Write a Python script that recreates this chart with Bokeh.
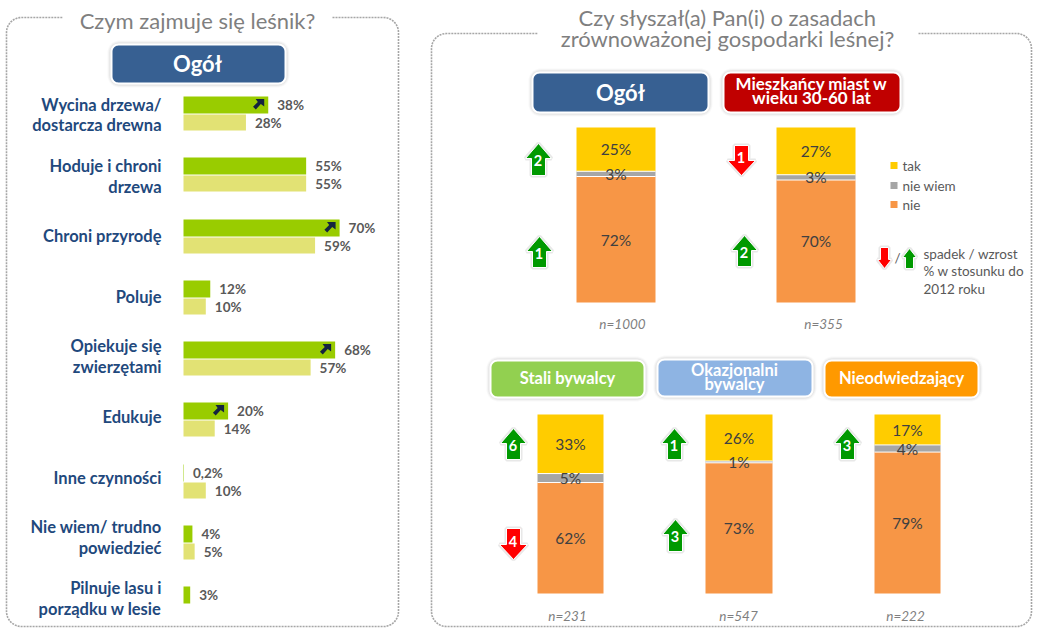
import math
from bokeh.plotting import figure
from bokeh.models import Range1d
from bokeh.core.properties import value
from bokeh.embed import file_html
from bokeh.resources import INLINE

# ---------- data ----------
activities = [["Wycina drzewa/", "dostarcza drewna"], ["Hoduje i chroni", "drzewa"], ["Chroni przyrodę"],
              ["Poluje"], ["Opiekuje się", "zwierzętami"], ["Edukuje"], ["Inne czynności"],
              ["Nie wiem/ trudno", "powiedzieć"], ["Pilnuje lasu i", "porządku w lesie"]]
share_recent = [38, 55, 70, 12, 68, 20, 0.2, 4, 3]
share_earlier = [28, 55, 59, 10, 57, 14, 10, 5, None]
share_recent_labels = ["38%", "55%", "70%", "12%", "68%", "20%", "0,2%", "4%", "3%"]
share_earlier_labels = ["28%", "55%", "59%", "10%", "57%", "14%", "10%", "5%", ""]
rising = [True, False, True, False, True, True, False, False, False]

groups = ["Ogół", "Mieszkańcy miast w wieku 30-60 lat", "Stali bywalcy", "Okazjonalni bywalcy", "Nieodwiedzający"]
tak = [25, 27, 33, 26, 17]
nie_wiem = [3, 3, 5, 1, 4]
nie = [72, 70, 62, 73, 79]
sample = ["n=1000", "n=355", "n=231", "n=547", "n=222"]
change_tak = [2, -1, 6, 1, 3]      # +up / -down, points vs. 2012
change_nie = [1, 2, -4, 3, None]
legend_names = ["tak", "nie wiem", "nie"]

# ---------- style ----------
FONT = "Lato"
NAVY, GREY_T, DARK_T = "#1F497D", "#7F7F7F", "#404040"
C_NEW, C_OLD = "#99CC00", "#E2E274"
C_TAK, C_NW, C_NIE = "#FFCC00", "#A6A6A6", "#F79646"
AR_G, AR_R = "#009900", "#FF0000"

W, H = 1043, 628
p = figure(width=W, height=H, x_range=Range1d(0, W), y_range=Range1d(H, 0),
           output_backend="svg", toolbar_location=None, min_border=0,
           outline_line_color=None, background_fill_color="white")
p.xaxis.visible = False
p.yaxis.visible = False
p.xgrid.visible = False
p.ygrid.visible = False

PX_PCT = 2.23
X0 = 183
p.extra_x_ranges["pct"] = Range1d(-X0 / PX_PCT, (W - X0) / PX_PCT)
for name, base, sc in (("st_top", 302, 1.75), ("st_bot", 593, 1.79)):
    p.extra_y_ranges[name] = Range1d((base - H) / sc, base / sc)


def txt(x, y, s, size, color, style="normal", align="center", **kw):
    p.text(x=[x], y=[y], text=[s], text_font=value(FONT), text_font_size=f"{size}px", text_color=color,
           text_font_style=style, text_align=align, text_baseline="middle", **kw)


def rr_path(l, t, r, b, rad, n=8):
    xs, ys = [], []
    for cx, cy, a0 in ((r - rad, t + rad, -90), (r - rad, b - rad, 0), (l + rad, b - rad, 90), (l + rad, t + rad, 180)):
        for i in range(n + 1):
            a = math.radians(a0 + 90 * i / n)
            xs.append(cx + rad * math.cos(a))
            ys.append(cy + rad * math.sin(a))
    return xs, ys


def button(l, t, r, b, color):
    for g, al in ((4, .05), (3, .07), (2, .10)):
        xs, ys = rr_path(l - g, t - g, r + g, b + g, 8 + g)
        p.patch(xs, ys, fill_color="#808080", fill_alpha=al, line_color=None)
    xs, ys = rr_path(l, t, r, b, 7)
    p.patch(xs, ys, fill_color=color, line_color="white", line_width=2)


def frame(l, t, r, b, gap_l, gap_r, rad=15):
    xs = [gap_r]
    ys = [t]
    for cx, cy, a0 in ((r - rad, t + rad, -90), (r - rad, b - rad, 0), (l + rad, b - rad, 90), (l + rad, t + rad, 180)):
        for i in range(13):
            a = math.radians(a0 + 90 * i / 12)
            xs.append(cx + rad * math.cos(a))
            ys.append(cy + rad * math.sin(a))
    xs.append(gap_l)
    ys.append(t)
    p.line(xs, ys, line_color="#A6A6A6", line_width=1.6, line_dash="2 1")


def arrow(cx, top, bot, up, label=None, hw=13, sw=7, hh=14):
    if up:
        xs = [cx, cx + hw, cx + sw, cx + sw, cx - sw, cx - sw, cx - hw]
        ys = [top, top + hh, top + hh, bot, bot, top + hh, top + hh]
    else:
        xs = [cx, cx + hw, cx + sw, cx + sw, cx - sw, cx - sw, cx - hw]
        ys = [bot, bot - hh, bot - hh, top, top, bot - hh, bot - hh]
    p.patch(xs, ys, fill_color=None, line_color="#808080", line_alpha=.18, line_width=4)
    p.patch(xs, ys, fill_color=AR_G if up else AR_R, line_color="white", line_width=1)
    if label is not None:
        txt(cx - 0.5, (top + bot) / 2 + (1 if up else -3), str(label), 14.5, "white", "bold")


def diag_arrow(cx, cy):
    s = 6.0
    pts = [(s, -s), (s, 1.5), (2.6, -.9), (-2.4, 4.6), (-5.2, 1.8), (-.4, -3.1), (-2.6, -s)]
    p.patch([cx + a for a, _ in pts], [cy + b for _, b in pts], fill_color="#14243F", line_color=None)


# ---------- frames ----------
frame(6, 17, 398, 626, 62, 332)
frame(431, 33, 1031, 626, 537, 918)

# ---------- titles ----------
txt(197, 20, "Czym zajmuje się leśnik?", 22, GREY_T)
txt(727, 17, "Czy słyszał(a) Pan(i) o zasadach", 22, GREY_T)
txt(727, 38, "zrównoważonej gospodarki leśnej?", 22, GREY_T)

# ---------- left panel ----------
button(111, 44, 285, 83, "#376092")
txt(197, 63, groups[0], 22, "white", "bold")

row_new_top = [96, 157, 219, 280, 341, 402, 464, 525, 586]
label_y = [[104, 124], [165, 186], [235], [296], [345, 366], [416], [477], [526, 547], [587, 608]]
for lines, ys in zip(activities, label_y):
    for s, y in zip(lines, ys):
        txt(161, y, s, 16.5, NAVY, "bold", "right")

y_new0 = row_new_top
y_new1 = [y + 17 for y in row_new_top]
y_old0 = [y + 18 for y in row_new_top]
y_old1 = [y + 34 for y in row_new_top]

p.quad(left=[0] * 9, right=share_recent, top=y_new0, bottom=y_new1, x_range_name="pct",
       fill_color=C_NEW, line_color=None)
idx = [i for i, v in enumerate(share_earlier) if v is not None]
p.quad(left=[0] * len(idx), right=[share_earlier[i] for i in idx], top=[y_old0[i] for i in idx],
       bottom=[y_old1[i] for i in idx], x_range_name="pct", fill_color=C_OLD, line_color=None)

p.text(x=share_recent, y=[(a + b) / 2 for a, b in zip(y_new0, y_new1)], text=share_recent_labels,
       x_range_name="pct", x_offset=9, text_font=value(FONT), text_font_size="13.5px", text_font_style="bold",
       text_color="#595959", text_baseline="middle")
p.text(x=[share_earlier[i] for i in idx], y=[(y_old0[i] + y_old1[i]) / 2 for i in idx],
       text=[share_earlier_labels[i] for i in idx], x_range_name="pct", x_offset=9, text_font=value(FONT),
       text_font_size="13.5px", text_font_style="bold", text_color="#595959", text_baseline="middle")
for i, r in enumerate(rising):
    if r:
        diag_arrow(X0 + share_recent[i] * PX_PCT - 10, (y_new0[i] + y_new1[i]) / 2)

# ---------- right panel: buttons ----------
btns = [(532, 72, 708, 112, "#376092"), (723, 72, 900, 112, "#C00000"), (490, 360, 644, 397, "#92D050"),
        (657, 359, 812, 396, "#8EB4E3"), (824, 360, 978, 397, "#FF9900")]
for b in btns:
    button(*b)
txt(620, 92, "Ogół", 22, "white", "bold")
txt(811, 83, "Mieszkańcy miast w", 17, "white", "bold")
txt(811, 97, "wieku 30-60 lat", 17, "white", "bold")
txt(567, 377, "Stali bywalcy", 16.5, "white", "bold")
txt(734, 369, "Okazjonalni", 16.5, "white", "bold")
txt(734, 383, "bywalcy", 16.5, "white", "bold")
txt(901, 377, "Nieodwiedzający", 16.5, "white", "bold")

# ---------- right panel: stacked bars ----------
bar_l = [576, 776, 537, 705, 874]
bar_r = [655, 855, 603, 772, 940]
rng = ["st_top", "st_top", "st_bot", "st_bot", "st_bot"]
for i in range(5):
    v0, v1, v2 = nie[i], nie_wiem[i], tak[i]
    stacks = [(0, v0, C_NIE), (v0, v0 + v1, C_NW), (v0 + v1, v0 + v1 + v2, C_TAK)]
    for lo, hi, c in stacks:
        p.quad(left=[bar_l[i]], right=[bar_r[i]], bottom=[lo], top=[hi], y_range_name=rng[i],
               fill_color=c, line_color=None)
    for lv in (v0, v0 + v1):
        p.segment(x0=[bar_l[i]], x1=[bar_r[i]], y0=[lv], y1=[lv], y_range_name=rng[i], line_color="white", line_width=1)
    for (lo, hi, _), s in zip(stacks, (nie[i], nie_wiem[i], tak[i])):
        p.text(x=[(bar_l[i] + bar_r[i]) / 2], y=[(lo + hi) / 2], text=[f"{s}%"], y_range_name=rng[i],
               text_font=value(FONT), text_font_size="15.5px", text_color=DARK_T,
               text_align="center", text_baseline="middle")

n_xy = [(622, 323), (823, 323), (567, 615), (738, 615), (905, 615)]
for (x, y), s in zip(n_xy, sample):
    txt(x, y, s, 13.5, GREY_T, "italic")

# ---------- change arrows ----------
tak_pos = [(538, 143, 175), (741, 145, 175), (513, 428, 459), (674, 428, 459), (847, 428, 459)]
nie_pos = [(539, 236, 267), (744, 235, 266), (513, 528, 559), (675, 519, 551), None]
for vals, poss in ((change_tak, tak_pos), (change_nie, nie_pos)):
    for v, pos in zip(vals, poss):
        if v is None:
            continue
        arrow(pos[0], pos[1], pos[2], v > 0, abs(v), hw=13 if v > 0 else 14, sw=7, hh=15)

# ---------- legend ----------
for y, c, s in zip((165, 185, 204), (C_TAK, C_NW, C_NIE), legend_names):
    p.quad(left=[890], right=[897], top=[y - 3.5], bottom=[y + 3.5], fill_color=c, line_color=None)
    txt(902, y, s, 13.5, "#595959", align="left")
arrow(884, 247, 268, False, None, hw=7, sw=4, hh=9)
txt(897, 257, "/", 13.5, "#595959")
arrow(909, 248, 268, True, None, hw=7, sw=4, hh=9)
for y, s in zip((253, 270, 288), ("spadek / wzrost", "% w stosunku do", "2012 roku")):
    txt(923, y, s, 13.5, "#595959", align="left")

open("out.html", "w").write(file_html(p, INLINE))
